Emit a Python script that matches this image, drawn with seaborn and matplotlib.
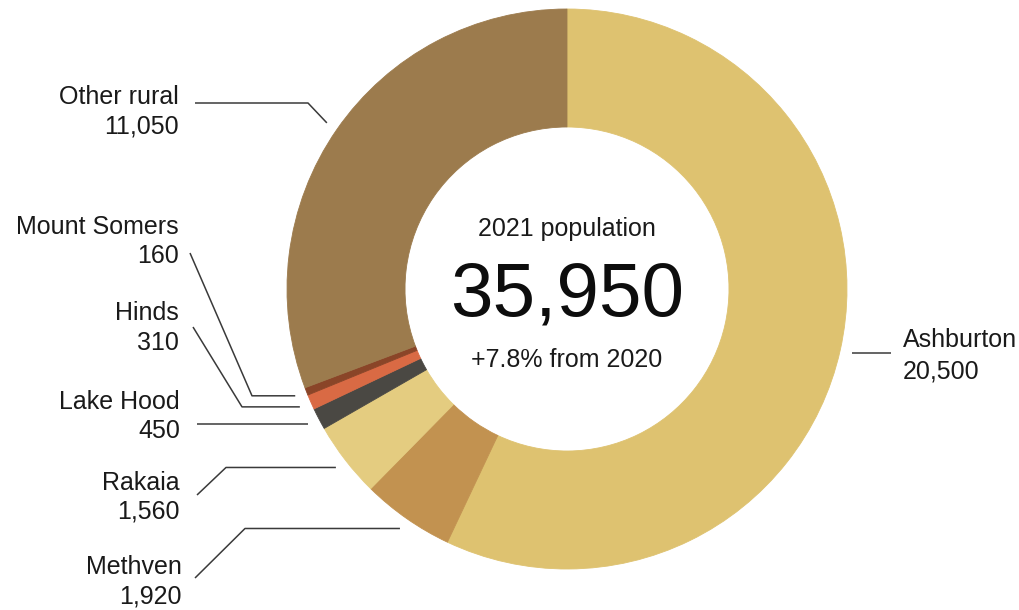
import numpy as np
import matplotlib
matplotlib.use("Agg")
import matplotlib.pyplot as plt
import seaborn as sns

# Population by area, clockwise from twelve o'clock
areas = ["Ashburton", "Methven", "Rakaia", "Lake Hood", "Hinds", "Mount Somers", "Other rural"]
population = [20500, 1920, 1560, 450, 310, 160, 11050]
value_labels = ["20,500", "1,920", "1,560", "450", "310", "160", "11,050"]
area_colors = ["#DEC270", "#C29250", "#E4CC80", "#4A4843", "#D96A44", "#8A4528", "#9C7B4D"]

centre_title = "2021 population"
centre_total = "35,950"
centre_change = "+7.8% from 2020"

sns.set_theme(style="white")
plt.rcParams["font.family"] = ["Liberation Sans", "DejaVu Sans"]

W, H = 1020, 610
fig = plt.figure(figsize=(W / 100, H / 100), dpi=100)
ax = fig.add_axes([0, 0, 1, 1])
ax.set_xlim(0, W)
ax.set_ylim(0, H)
ax.set_aspect("equal")
ax.axis("off")


def py(y):
    """Convert a top-down pixel row into the axes' bottom-up coordinate."""
    return H - y


cx, cy = 567, 289
R_OUT, R_IN = 280, 162
palette = sns.color_palette(area_colors)

wedges, _ = ax.pie(
    population,
    colors=palette,
    startangle=90,
    counterclock=False,
    radius=R_OUT,
    center=(cx, py(cy)),
    wedgeprops=dict(width=R_OUT - R_IN, linewidth=0.6),
    frame=True,
)
for w in wedges:
    w.set_edgecolor(w.get_facecolor())
ax.set_xlim(0, W)
ax.set_ylim(0, H)
ax.axis("off")

# Centre text
ax.text(cx, py(236), centre_title, ha="center", va="baseline", fontsize=18, color="#1a1a1a")
ax.text(cx, py(315), centre_total, ha="center", va="baseline", fontsize=55, color="#0d0d0d")
ax.text(cx, py(367), centre_change, ha="center", va="baseline", fontsize=18, color="#1a1a1a")

# Label layout: text anchor x, name baseline, value baseline, alignment, leader points
layout = {
    "Ashburton":    dict(x=903, y1=347, y2=378, ha="left",  path=[("h", 891)]),
    "Methven":      dict(x=182, y1=574, y2=604, ha="right", path=[(195, 578), ("e", 245)]),
    "Rakaia":       dict(x=180, y1=490, y2=519, ha="right", path=[(197, 495), ("e", 226)]),
    "Lake Hood":    dict(x=180, y1=409, y2=438, ha="right", path=[("h", 197)]),
    "Hinds":        dict(x=179, y1=320, y2=350, ha="right", path=[(193, 327), ("e", 242)]),
    "Mount Somers": dict(x=179, y1=234, y2=263, ha="right", path=[(190, 253), ("e", 252)]),
    "Other rural":  dict(x=179, y1=104, y2=133, ha="right", path=[(195, 103), (308, 103)]),
}

gap = 12
total = float(sum(population))
start = 0.0
for name, val, vlab in zip(areas, population, value_labels):
    frac = val / total
    mid = np.deg2rad((start + frac / 2) * 360.0)   # clockwise from top
    start += frac
    ax_x = cx + (R_OUT + gap) * np.sin(mid)
    ax_y = cy - (R_OUT + gap) * np.cos(mid)

    spec = layout[name]
    pts = []
    for p in spec["path"]:
        if p[0] == "h":
            pts.append((p[1], ax_y))
        elif p[0] == "e":
            pts.append((p[1], ax_y))
        else:
            pts.append(p)
    pts.append((ax_x, ax_y))
    xs = [p[0] for p in pts]
    ys = [py(p[1]) for p in pts]
    ax.plot(xs, ys, color="#3a3a3a", linewidth=1.1, solid_capstyle="butt")

    ax.text(spec["x"], py(spec["y1"]), name, ha=spec["ha"], va="baseline",
            fontsize=18, color="#1a1a1a")
    ax.text(spec["x"], py(spec["y2"]), vlab, ha=spec["ha"], va="baseline",
            fontsize=18, color="#1a1a1a")

fig.savefig("out.png", dpi=100, facecolor="white")
